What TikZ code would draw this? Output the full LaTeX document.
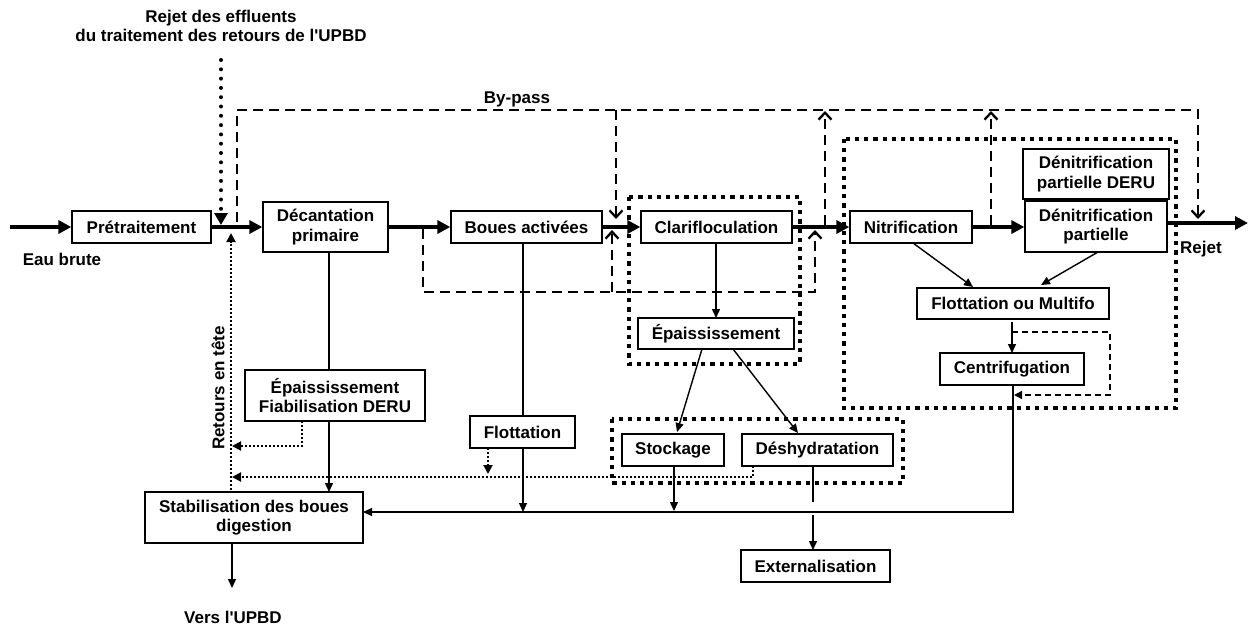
\documentclass[tikz,border=0pt]{standalone}
\usepackage{fontspec}
\setmainfont{Liberation Sans}[Ligatures=TeXReset]
\usetikzlibrary{arrows.meta}
\begin{document}
\begin{tikzpicture}[x=1pt,y=-1pt,
  every node/.style={font=\fontsize{17}{19.5}\selectfont\bfseries},
  box/.style={draw, line width=1.3pt, align=center, inner sep=0pt, fill=white},
  mainarr/.style={line width=4.5pt, -{Triangle[length=13pt,width=13pt]}},
  thinline/.style={line width=1.4pt},
  thinarr/.style={line width=1.4pt, -{Triangle[length=9pt,width=8pt]}},
  bypass/.style={line width=2.3pt, dash pattern=on 10pt off 6pt},
  bparr/.style={bypass, -{Straight Barb[length=7pt,width=13pt]}},
  dotbox/.style={line width=4.2pt, dash pattern=on 4.2pt off 5pt},
  retour/.style={line width=2pt, dash pattern=on 2pt off 2pt},
  retarr/.style={retour, -{Triangle[length=9pt,width=9pt]}},
  effl/.style={line width=4pt, line cap=round, dash pattern=on 0pt off 9.3pt, -{Triangle[length=12pt,width=13pt]}},
  smalldash/.style={line width=1.4pt, dash pattern=on 6pt off 4pt},
  smalldasharr/.style={smalldash, -{Triangle[length=8pt,width=8pt]}},
  lbl/.style={inner sep=0pt}
]
\useasboundingbox (0,0) rectangle (1248,625);

% dotted group boxes
\draw[dotbox] (629,197) rectangle (800,364);
\draw[dotbox] (844,139) rectangle (1176,408);
\draw[dotbox] (612,419) rectangle (903,483);

% by-pass (dashed)
\coordinate (bpA) at (237,222); \coordinate (bpB) at (237,110);
\coordinate (bpC) at (1198,110); \coordinate (bpD) at (1198,219);
\draw[bparr] (bpA) -- (bpB) -- (bpC) -- (bpD);
\coordinate (bpE) at (616,110); \coordinate (bpF) at (616,219);
\draw[bparr] (bpE) -- (bpF);
\coordinate (bpG) at (825,225); \coordinate (bpH) at (825,111);
\draw[bparr] (bpG) -- (bpH);
\coordinate (bpI) at (991,225); \coordinate (bpJ) at (991,111);
\draw[bparr] (bpI) -- (bpJ);
\coordinate (lpA) at (423,229); \coordinate (lpB) at (423,292);
\coordinate (lpC) at (815,292); \coordinate (lpD) at (815,230);
\draw[bparr] (lpA) -- (lpB) -- (lpC) -- (lpD);
\coordinate (lpE) at (612,292); \coordinate (lpF) at (612,230);
\draw[bparr] (lpE) -- (lpF);

% boxes
\node[box, minimum width=139, minimum height=32] (pre) at (141.5,227) {Prétraitement};
\node[box, minimum width=125, minimum height=50] (dec) at (325.5,227) {Décantation\\primaire};
\node[box, minimum width=151, minimum height=32] (ba) at (526.5,227) {Boues activées};
\node[box, minimum width=151, minimum height=32] (clar) at (716.5,227) {Clarifloculation};
\node[box, minimum width=156, minimum height=31] (epm) at (716,333.5) {Épaississement};
\node[box, minimum width=122, minimum height=32] (nit) at (911,227) {Nitrification};
\node[box, minimum width=146, minimum height=50] (deru) at (1096,174) {Dénitrification\\partielle DERU};
\node[box, minimum width=142, minimum height=51] (den) at (1096,226.5) {Dénitrification\\partielle};
\node[box, minimum width=192, minimum height=31] (flm) at (1013,303.5) {Flottation ou Multifo};
\node[box, minimum width=144, minimum height=32] (cen) at (1012,369) {Centrifugation};
\node[box, minimum width=180, minimum height=51] (epf) at (335,395.5) {Épaississement\\Fiabilisation DERU};
\node[box, minimum width=105, minimum height=32] (flo) at (522.5,432) {Flottation};
\node[box, minimum width=102, minimum height=32] (sto) at (673,450) {Stockage};
\node[box, minimum width=151, minimum height=32] (des) at (817.5,450) {Déshydratation};
\node[box, minimum width=149, minimum height=32] (ext) at (815.5,566) {Externalisation};
\node[box, minimum width=218, minimum height=51] (stab) at (254,517.5) {Stabilisation des boues\\digestion};

% labels
\node[lbl, align=center] (titre) at (221,26) {Rejet des effluents\\du traitement des retours de l'UPBD};
\node[lbl] (eau) at (62,259) {Eau brute};
\node[lbl, anchor=west] (rejet) at (1180,249) {Rejet};
\node[lbl] (bypasslbl) at (517,99) {By-pass};
\node[lbl] (vers) at (233,617) {Vers l'UPBD};
\node[lbl, rotate=90] (retlbl) at (218,388) {Retours en tête};

% main water line
\coordinate (in) at (10,227);
\coordinate (out) at (1248,223);
\draw[mainarr] (in) -- (pre.west);
\draw[mainarr] (pre.east) -- (dec.west);
\draw[mainarr] (dec.east) -- (ba.west);
\draw[mainarr] (ba.east) -- (clar.west);
\draw[mainarr] (clar.east) -- (nit.west);
\draw[mainarr] (nit.east) -- (den.west |- nit.east);
\coordinate (denout) at (1167,223);
\draw[mainarr] (denout) -- (out);

% effluent dotted arrow
\coordinate (efA) at (221,60); \coordinate (efB) at (221,225);
\draw[effl] (efA) -- (efB);

% sludge lines
\coordinate (decb) at (329,252); \coordinate (epft) at (329,370);
\draw[thinline] (decb) -- (epft);
\coordinate (epfb) at (329,421); \coordinate (stabt) at (329,492);
\draw[thinarr] (epfb) -- (stabt);
\coordinate (bab) at (523,243); \coordinate (flot) at (523,416);
\draw[thinline] (bab) -- (flot);
\coordinate (flob) at (523,448); \coordinate (col1) at (523,512);
\draw[thinarr] (flob) -- (col1);
\coordinate (clarb) at (716,243); \coordinate (epmt) at (716,318);
\draw[thinarr] (clarb) -- (epmt);
\coordinate (epm1) at (702,349); \coordinate (sto1) at (677,432);
\draw[thinarr] (epm1) -- (sto1);
\coordinate (epm2) at (733,349); \coordinate (des1) at (798,433);
\draw[thinarr] (epm2) -- (des1);
\coordinate (stob) at (674,466); \coordinate (col2) at (674,511);
\draw[thinarr] (stob) -- (col2);
\coordinate (desb) at (813,466); \coordinate (desm) at (813,502);
\draw[thinline] (desb) -- (desm);
\coordinate (desn) at (813,515); \coordinate (extt) at (813,550);
\draw[thinarr] (desn) -- (extt);
\coordinate (cenb) at (1013,385); \coordinate (colR) at (1013,512);
\coordinate (stabr) at (363,512);
\draw[thinarr] (cenb) -- (colR) -- (stabr);
\coordinate (stabb) at (232,543); \coordinate (versa) at (232,588);
\draw[thinarr] (stabb) -- (versa);
\coordinate (nit1) at (913,243); \coordinate (flm1) at (973,287);
\draw[thinarr] (nit1) -- (flm1);
\coordinate (den1) at (1098,252); \coordinate (flm2) at (1041,285);
\draw[thinarr] (den1) -- (flm2);
\coordinate (flmb) at (1012,322); \coordinate (cent) at (1012,353);
\draw[thinarr] (flmb) -- (cent);
\coordinate (cdA) at (1012,332); \coordinate (cdB) at (1110,332);
\coordinate (cdC) at (1110,395); \coordinate (cdD) at (1014,395);
\draw[smalldasharr] (cdA) -- (cdB) -- (cdC) -- (cdD);

% retours en tete (dotted)
\coordinate (rtA) at (231,490); \coordinate (rtB) at (231,233);
\draw[retarr] (rtA) -- (rtB);
\coordinate (rfA) at (302,421); \coordinate (rfB) at (302,446); \coordinate (rfC) at (232,446);
\draw[retarr] (rfA) -- (rfB) -- (rfC);
\coordinate (rdA) at (753,466); \coordinate (rdB) at (753,477); \coordinate (rdC) at (232,477);
\draw[retarr] (rdA) -- (rdB) -- (rdC);
\coordinate (roA) at (488,448); \coordinate (roB) at (488,474);
\draw[retarr] (roA) -- (roB);
\end{tikzpicture}
\end{document}
